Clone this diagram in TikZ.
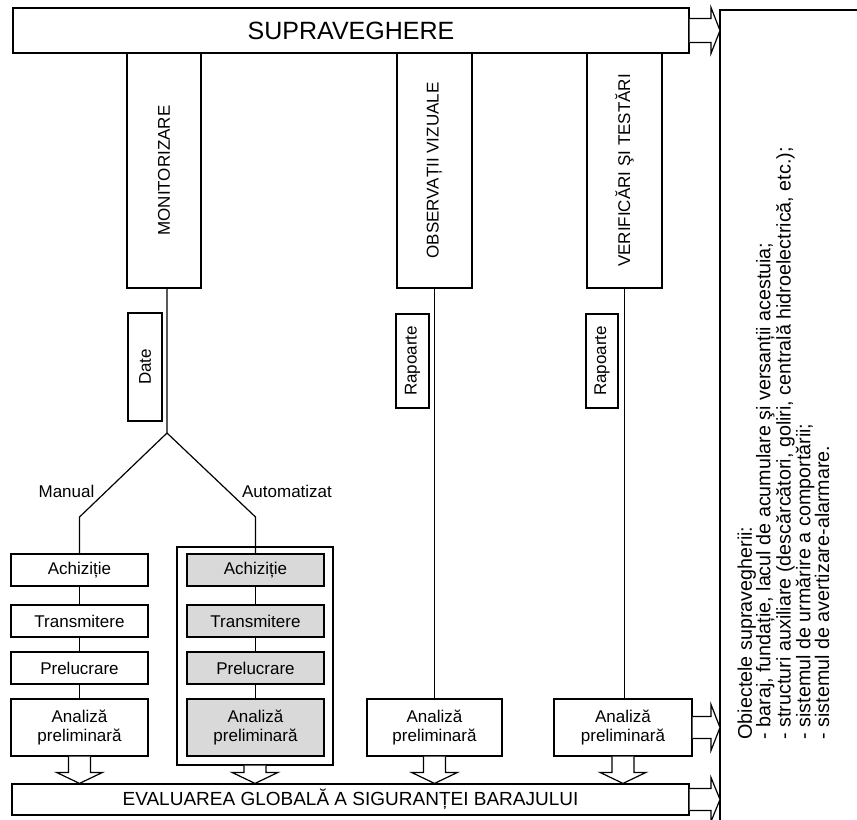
\documentclass[tikz,border=0pt]{standalone}
\usepackage{fontspec}
\setmainfont{Liberation Sans}
\usepackage{graphicx}
\usetikzlibrary{calc}
\newcommand{\pbox}[6]{\node[#1, minimum width={(#4-#2)*0.75pt}, minimum height={(#5-#3)*0.75pt}] (#6) at ({(#2+#4)/2},{(#3+#5)/2})}
% down block arrow: #1 start anchor, #2 target node
\newcommand{\downblk}[2]{%
  \draw[fill=white] ($(#1)+(-11,0)$) -- ($(#1 |- #2.north)+(-11,-11)$) -- ++(-12,0)
    -- ($(#1 |- #2.north)$) -- ($(#1 |- #2.north)+(23,-11)$) -- ++(-12,0) -- ($(#1)+(11,0)$);}
% right block arrow: #1 start anchor, #2 target coordinate, #3 shaft half, #4 head half
\newcommand{\rightblk}[4]{%
  \draw[fill=white] ($(#1)+(0,-#3)$) -- ($(#1 -| #2)+(-9,-#3)$) -- ($(#1 -| #2)+(-9,-#4)$)
    -- ($(#1 -| #2)$) -- ($(#1 -| #2)+(-9,#4)$) -- ($(#1 -| #2)+(-9,#3)$) -- ($(#1)+(0,#3)$);}
\tikzset{
  box/.style={draw, fill=white, inner sep=0pt, align=center, font=\fontsize{12.75}{14.5}\selectfont},
  gbox/.style={box, fill=gray!30},
  lbl/.style={inner sep=0pt, font=\fontsize{12.75}{14.5}\selectfont},
}
\begin{document}
\begin{tikzpicture}[x=0.75pt, y=-0.75pt, line width=0.9pt, line join=miter]
\useasboundingbox (0,0) rectangle (857,819);

% right panel
\coordinate (pedge) at (720,10);
\draw (857,10) -- (pedge) -- (720,830);
\node[rotate=90, anchor=north west, inner sep=0pt, align=left,
      font=\fontsize{14.8}{13.9}\selectfont] (objtxt) at (737,740)
  {Obiectele supravegherii:\\
   - baraj, fundație, lacul de acumulare şi versanții acestuia;\\
   - structuri auxiliare (descărcători, goliri, centrală hidroelectrică, etc.);\\
   - sistemul de urmărire a comportării;\\
   - sistemul de avertizare-alarmare.};

% top
\pbox{box, font=\fontsize{18.75}{20}\selectfont}{13}{8}{689}{53}{sup}{SUPRAVEGHERE};
\rightblk{sup.east}{pedge}{12}{23}

\pbox{box}{127}{53}{201}{288}{mon}{\rotatebox{90}{MONITORIZARE}};
\pbox{box}{397}{53}{472}{288}{obs}{\rotatebox{90}{OBSERVAȚII VIZUALE}};
\pbox{box}{587}{53}{662}{288}{ver}{\rotatebox{90}{VERIFICĂRI ŞI TESTĂRI}};

\pbox{box}{128}{313}{162}{421}{date}{\rotatebox{90}{Date}};
\pbox{box}{396}{314}{429}{408}{rap1}{\rotatebox{90}{Rapoarte}};
\pbox{box}{586}{314}{618}{408}{rap2}{\rotatebox{90}{Rapoarte}};

% manual column
\pbox{box}{11}{554}{148}{586}{ma1}{Achiziție};
\pbox{box}{11}{605}{148}{637}{ma2}{Transmitere};
\pbox{box}{11}{652}{148}{684}{ma3}{Prelucrare};
\pbox{box}{11}{699}{148}{756}{ma4}{Analiză\\preliminară};

% automatic column
\pbox{draw, inner sep=0pt}{177}{547}{333}{765}{auto}{};
\pbox{gbox}{187}{554}{324}{586}{aa1}{Achiziție};
\pbox{gbox}{187}{605}{324}{637}{aa2}{Transmitere};
\pbox{gbox}{187}{652}{324}{684}{aa3}{Prelucrare};
\pbox{gbox}{187}{699}{324}{756}{aa4}{Analiză\\preliminară};

% other analyses
\pbox{box}{367}{699}{502}{756}{oa}{Analiză\\preliminară};
\pbox{box}{554}{699}{692}{756}{va}{Analiză\\preliminară};

% global evaluation
\pbox{box, font=\fontsize{14.25}{16}\selectfont}{12}{784}{689}{815}{eval}{EVALUAREA GLOBALĂ A SIGURANȚEI BARAJULUI};

% labels
\node[lbl] (lman) at (66.5,491) {Manual};
\node[lbl] (laut) at (287,491) {Automatizat};

% connectors
\coordinate (j) at (167,433);
\coordinate (jl) at (79.5,517);
\coordinate (jr) at (255.5,517);
\draw (j |- mon.south) -- (j) -- (jl) -- (ma1.north);
\draw (j) -- (jr) -- (aa1.north);
\draw (ma1) -- (ma2); \draw (ma2) -- (ma3); \draw (ma3) -- (ma4);
\draw (aa1) -- (aa2); \draw (aa2) -- (aa3); \draw (aa3) -- (aa4);
\draw (obs.south) -- (obs.south |- oa.north);
\draw (ver.south) -- (ver.south |- va.north);

% block arrows
\downblk{ma4.south}{eval}
\downblk{auto.south}{eval}
\downblk{oa.south}{eval}
\downblk{va.south}{eval}
\rightblk{va.east}{pedge}{11}{23}
\rightblk{eval.east}{pedge}{11}{22}
\end{tikzpicture}
\end{document}
